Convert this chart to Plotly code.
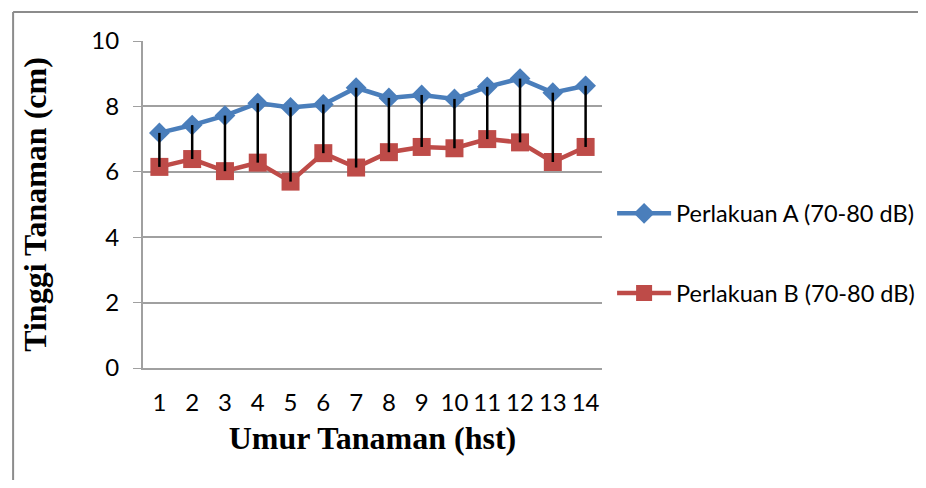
import plotly.graph_objects as go

days = list(range(1, 15))
tick_labels = [str(d) for d in days]
perlakuan_a = [7.19, 7.43, 7.72, 8.10, 7.97, 8.06, 8.57, 8.26, 8.35, 8.23, 8.60, 8.85, 8.42, 8.63]
perlakuan_b = [6.15, 6.39, 6.02, 6.28, 5.70, 6.57, 6.13, 6.60, 6.76, 6.72, 7.00, 6.90, 6.30, 6.76]

name_a = "Perlakuan A (70-80 dB)"
name_b = "Perlakuan B (70-80 dB)"

fig = go.Figure()
fig.add_trace(go.Scatter(
    x=days, y=perlakuan_a, mode="lines+markers", name=name_a, legendgroup="a",
    line=dict(color="#4a7ebb", width=4.5),
    marker=dict(symbol="diamond", size=16, color="#4a7ebb"),
))
fig.add_trace(go.Scatter(
    x=days, y=perlakuan_b, mode="lines+markers", name=name_b, legendgroup="b",
    line=dict(color="#be4b48", width=4.5),
    marker=dict(symbol="square", size=18, color="#be4b48"),
))

# high-low drop lines between the two series
hx, hy = [], []
for d, a, b in zip(days, perlakuan_a, perlakuan_b):
    hx += [d, d, None]
    hy += [a, b, None]
fig.add_trace(go.Scatter(x=hx, y=hy, mode="lines", showlegend=False,
                         line=dict(color="black", width=2.5), hoverinfo="skip"))

title_font = dict(family="Liberation Serif, Times New Roman, serif", size=32, color="black")
border = dict(color="#8c8c8c", width=2)

fig.update_layout(
    width=910, height=472,
    margin=dict(l=135, r=316, t=33, b=112, autoexpand=False),
    paper_bgcolor="white", plot_bgcolor="white",
    font=dict(family="Lato, Open Sans, sans-serif", size=24, color="black"),
    legend=dict(x=1.022, xanchor="left", y=0.35, yanchor="middle",
                tracegroupgap=46, font=dict(size=23.5), itemwidth=54,
                bgcolor="rgba(0,0,0,0)"),
    shapes=[
        dict(type="line", xref="paper", yref="paper", x0=-0.283, x1=-0.283,
             y0=-0.6, y1=1.0887, line=border),
        dict(type="line", xref="paper", yref="paper", x0=-0.283, x1=3.0,
             y0=1.0887, y1=1.0887, line=border),
    ],
)
fig.update_xaxes(
    range=[0.5, 14.5], tickmode="array", tickvals=days, ticktext=tick_labels,
    showgrid=False, showline=True, linecolor="#a0a0a0", linewidth=2,
    ticks="", zeroline=False, ticklabelstandoff=12,
    title=dict(text="<b>Umur Tanaman (hst)</b>", standoff=12, font=title_font),
    tickfont=dict(size=24),
)
fig.update_yaxes(
    range=[0, 10], dtick=2, showgrid=True, gridcolor="#a0a0a0", gridwidth=1.5,
    showline=True, linecolor="#a0a0a0", linewidth=2, ticks="outside", ticklen=8,
    tickcolor="#a0a0a0", zeroline=False, ticklabelstandoff=9,
    title=dict(text="<b>Tinggi Tanaman (cm)</b>", standoff=35, font=title_font),
    tickfont=dict(size=24),
)

fig.write_html("out.html")
